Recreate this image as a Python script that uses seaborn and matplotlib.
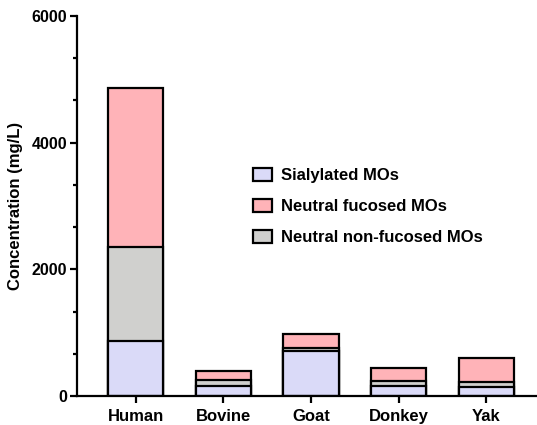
import matplotlib
matplotlib.use("Agg")
import matplotlib.pyplot as plt
import numpy as np
import pandas as pd
import seaborn as sns
from matplotlib.patches import Patch
from matplotlib.ticker import AutoMinorLocator

species = ["Human", "Bovine", "Goat", "Donkey", "Yak"]
sialylated = [870, 160, 715, 165, 140]
non_fucosed = [1480, 100, 40, 75, 85]
fucosed = [2510, 135, 220, 200, 375]

colors = {
    "Sialylated MOs": "#dadaf8",
    "Neutral fucosed MOs": "#ffb3b8",
    "Neutral non-fucosed MOs": "#d0d0ce",
}

sns.set_style("ticks")
plt.rcParams["font.family"] = ["Liberation Sans", "DejaVu Sans"]
plt.rcParams["font.weight"] = "bold"
plt.rcParams["text.color"] = "black"
plt.rcParams["axes.labelcolor"] = "black"
plt.rcParams["xtick.color"] = "black"
plt.rcParams["ytick.color"] = "black"

df = pd.DataFrame(
    {
        "species": species,
        "sial": sialylated,
        "nonfuc": non_fucosed,
        "fuc": fucosed,
    }
)
df["lvl2"] = df["sial"] + df["nonfuc"]
df["total"] = df["lvl2"] + df["fuc"]

fig = plt.figure(figsize=(5.37, 4.25), dpi=100)
ax = fig.add_axes([0.1434, 0.0682, 0.855, 0.894])

# draw cumulative heights, tallest first, so the stacks show through
for col, name in [("total", "Neutral fucosed MOs"),
                  ("lvl2", "Neutral non-fucosed MOs"),
                  ("sial", "Sialylated MOs")]:
    sns.barplot(
        data=df,
        x="species",
        y=col,
        color=colors[name],
        saturation=1,
        width=0.63,
        edgecolor="black",
        linewidth=1.6,
        ax=ax,
    )

ax.set_xlim(-0.67, 4.57)
ax.set_ylim(0, 6000)
ax.set_yticks([0, 2000, 4000, 6000])
ax.yaxis.set_minor_locator(AutoMinorLocator(3))
ax.set_xlabel("")
ax.set_ylabel("Concentration (mg/L)", fontsize=12, fontweight="bold", labelpad=6)

for side in ["top", "right"]:
    ax.spines[side].set_visible(False)
for side in ["left", "bottom"]:
    ax.spines[side].set_linewidth(1.6)
    ax.spines[side].set_color("black")
ax.tick_params(axis="both", which="major", width=1.6, length=5, color="black")
ax.tick_params(axis="y", which="minor", width=1.6, length=3, color="black")
ax.tick_params(axis="x", labelsize=12, pad=4, labelcolor="black")
ax.tick_params(axis="y", labelsize=11.5, pad=2, labelcolor="black")
for lab in ax.get_xticklabels() + ax.get_yticklabels():
    lab.set_fontweight("bold")

handles = [
    Patch(facecolor=colors[n], edgecolor="black", linewidth=1.6, label=n)
    for n in ["Sialylated MOs", "Neutral fucosed MOs", "Neutral non-fucosed MOs"]
]
leg = ax.legend(
    handles=handles,
    loc="upper left",
    bbox_to_anchor=(0.383, 0.60),
    frameon=False,
    prop={"size": 12, "weight": "bold"},
    borderpad=0,
    borderaxespad=0,
    handlelength=1.15,
    handleheight=0.8,
    handletextpad=0.55,
    labelspacing=0.95,
)
for t in leg.get_texts():
    t.set_color("black")

fig.savefig("out.png", dpi=100)
